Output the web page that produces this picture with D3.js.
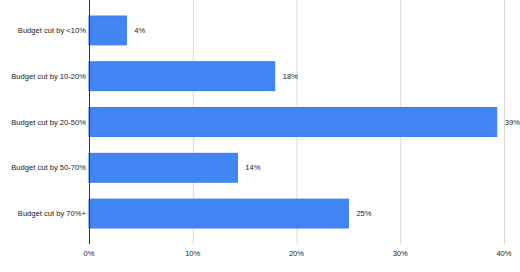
<!DOCTYPE html>
<html>
<head>
<meta charset="utf-8">
<script src="https://cdn.jsdelivr.net/npm/d3@7"></script>
<style>
  body { margin: 0; background: #fff; }
  svg { display: block; font-family: "Liberation Sans", Arial, sans-serif; }
</style>
</head>
<body>
<svg width="520" height="272"></svg>
<script>
// data
const categories = ["Budget cut by <10%", "Budget cut by 10-20%", "Budget cut by 20-50%", "Budget cut by 50-70%", "Budget cut by 70%+"];
const values = [3.6, 17.9, 39.3, 14.3, 25.0];
const valueLabels = ["4%", "18%", "39%", "14%", "25%"];
const xTicks = [0, 10, 20, 30, 40];

const svg = d3.select("svg");
const margin = {left: 89, right: 16, top: 0, bottom: 28};
const width = 520, height = 272;
const fontSize = 7.6;

const x = d3.scaleLinear()
    .domain([0, 40])
    .range([margin.left, width - margin.right]);

const y = d3.scaleBand()
    .domain(categories)
    .range([margin.top, height - margin.bottom])
    .paddingInner(0.37)
    .paddingOuter(0.35);

// gridlines
svg.append("g")
    .selectAll("line")
    .data(xTicks.slice(1))
    .enter()
    .append("line")
    .attr("x1", d => x(d) + 0.5)
    .attr("x2", d => x(d) + 0.5)
    .attr("y1", margin.top)
    .attr("y2", height - margin.bottom)
    .attr("stroke", "#d9d9d9")
    .attr("stroke-width", 1);

// bars
const data = categories.map((c, i) => ({cat: c, value: values[i], label: valueLabels[i]}));

svg.append("g")
    .selectAll("rect")
    .data(data)
    .enter()
    .append("rect")
    .attr("x", x(0))
    .attr("y", d => y(d.cat))
    .attr("width", d => x(d.value) - x(0))
    .attr("height", y.bandwidth())
    .attr("fill", "#4285f4")
    .attr("stroke", "#3b78e7")
    .attr("stroke-width", 1);

// value labels
svg.append("g")
    .selectAll("text")
    .data(data)
    .enter()
    .append("text")
    .attr("x", d => x(d.value) + 8)
    .attr("y", d => y(d.cat) + y.bandwidth() / 2)
    .attr("dy", "0.35em")
    .attr("font-size", fontSize)
    .attr("fill", "#222")
    .text(d => d.label);

// category labels
svg.append("g")
    .selectAll("text")
    .data(data)
    .enter()
    .append("text")
    .attr("x", x(0) - 3)
    .attr("y", d => y(d.cat) + y.bandwidth() / 2)
    .attr("dy", "0.35em")
    .attr("text-anchor", "end")
    .attr("font-size", fontSize)
    .attr("fill", "#222")
    .text(d => d.cat);

// baseline
svg.append("line")
    .attr("x1", x(0) + 0.5)
    .attr("x2", x(0) + 0.5)
    .attr("y1", margin.top)
    .attr("y2", height - margin.bottom)
    .attr("stroke", "#333")
    .attr("stroke-width", 1);

// x tick labels
svg.append("g")
    .selectAll("text")
    .data(xTicks)
    .enter()
    .append("text")
    .attr("x", d => x(d))
    .attr("y", 256)
    .attr("text-anchor", "middle")
    .attr("font-size", fontSize)
    .attr("fill", "#222")
    .text(d => d + "%");
</script>
</body>
</html>
